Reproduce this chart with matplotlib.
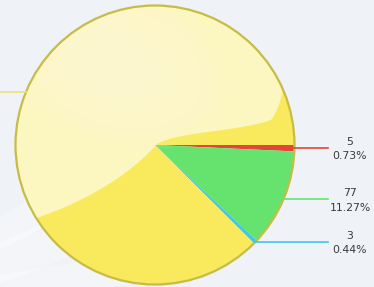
import numpy as np
import matplotlib
matplotlib.use("Agg")
import matplotlib.pyplot as plt
from matplotlib.patches import Circle, Ellipse, PathPatch
from matplotlib.path import Path

# slice data (clockwise from 3 o'clock)
counts = [5, 77, 3, 598]
percents = ["0.73%", "11.27%", "0.44%", "87.56%"]
colors = ["#e2463a", "#66e36e", "#3cc8ec", "#f8ea5c"]
line_colors = ["#e2463a", "#66e36e", "#3cc8ec", "#f0e27a"]

W, H = 374, 287
cx, cy, r = 155, H - 145, 139.5

fig = plt.figure(figsize=(W / 100, H / 100), dpi=100)
fig.patch.set_facecolor("#eff2f6")
ax = fig.add_axes([0, 0, 1, 1])

# faint white swooshes in the background
for (ex, ey, w, h, a) in [(40, 40, 240, 40, 22), (30, 70, 200, 30, 30), (80, 10, 300, 30, 8)]:
    ax.add_patch(Ellipse((ex, ey), w, h, angle=a, facecolor="white", alpha=0.3,
                         edgecolor="none", zorder=0))

wedges, _ = ax.pie(counts, colors=colors, startangle=0, counterclock=False,
                   center=(cx, cy), radius=r, frame=True,
                   wedgeprops=dict(linewidth=0))
ax.set_xlim(0, W)
ax.set_ylim(0, H)
ax.axis("off")

# glossy highlight over the upper-left part of the pie
def px(x, y):
    return (x, H - y)

verts = [px(0, 228),
         px(60, 215), px(122, 184), px(157, 144),
         px(180, 131), px(238, 132), px(271, 120),
         px(286, 100), px(290, 60), px(280, 0),
         px(0, 0), px(0, 228)]
codes = [Path.MOVETO,
         Path.CURVE4, Path.CURVE4, Path.CURVE4,
         Path.CURVE4, Path.CURVE4, Path.CURVE4,
         Path.CURVE4, Path.CURVE4, Path.CURVE4,
         Path.LINETO, Path.CLOSEPOLY]
clip = Circle((cx, cy), r, transform=ax.transData)
gloss = PathPatch(Path(verts, codes), facecolor="white", alpha=0.62,
                  edgecolor="none", zorder=3)
ax.add_patch(gloss)
gloss.set_clip_path(clip)
# soft glow, stacked so it has no hard edge
for k in range(6):
    s = 1 - k * 0.13
    glow = Ellipse((cx - 40, cy + 80), 240 * s, 160 * s, angle=-20,
                   facecolor="white", alpha=0.05, edgecolor="none", zorder=3)
    ax.add_patch(glow)
    glow.set_clip_path(clip)

# rim
ax.add_patch(Circle((cx, cy), r, facecolor="none", edgecolor="#c6bc46",
                    linewidth=1.6, zorder=4))

# leader lines and labels
total = sum(counts)
ang = 0.0
for i, (c, p) in enumerate(zip(counts, percents)):
    span = 360.0 * c / total
    mid = np.deg2rad(ang - span / 2)
    ang -= span
    ex = cx + r * np.cos(mid)
    ey = cy + r * np.sin(mid)
    if np.cos(mid) > 0:
        ax.plot([ex, 328], [ey, ey], color=line_colors[i], lw=1.2, zorder=5)
        ax.text(350, ey - 1, f"{c}\n{p}", ha="center", va="center",
                fontsize=7.8, color="#3a3a3a", linespacing=1.55, zorder=6)
    else:
        # this label sits outside the visible area, only its line shows
        ax.plot([ex, 0], [ey, ey], color=line_colors[i], lw=1.2, zorder=5)

fig.savefig("out.png", dpi=100, facecolor=fig.get_facecolor())
